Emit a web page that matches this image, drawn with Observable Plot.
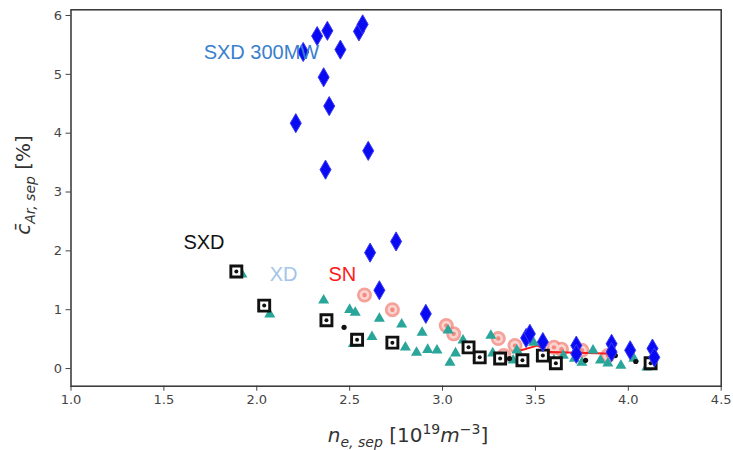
<!DOCTYPE html>
<html><head><meta charset="utf-8">
<script src="https://cdn.jsdelivr.net/npm/d3@7"></script>
<script src="https://cdn.jsdelivr.net/npm/@observablehq/plot@0.6"></script>
<style>body{margin:0;background:#fff}</style>
</head><body><div id="chart"></div>
<script>
// SXD 300MW (blue diamonds)
const sxd300X = [2.25,2.325,2.38,2.45,2.55,2.57,2.36,2.39,2.21,2.60,2.37,2.61,2.75,2.66,2.91,3.45,3.47,3.54,3.72,3.72,3.91,3.91,4.01,4.13,4.14];
const sxd300Y = [5.38,5.65,5.74,5.42,5.73,5.85,4.95,4.46,4.17,3.70,3.38,1.97,2.16,1.33,0.93,0.52,0.59,0.45,0.39,0.25,0.42,0.28,0.31,0.34,0.19];
// SXD (black squares)
const sxdX = [1.89,2.04,2.375,2.54,2.73,3.14,3.20,3.31,3.43,3.54,3.61,4.12];
const sxdY = [1.65,1.07,0.82,0.49,0.44,0.36,0.19,0.17,0.14,0.22,0.09,0.09];
// black small dots
const dotX = [2.47,3.36,3.77,3.93,4.04];
const dotY = [0.70,0.17,0.14,0.22,0.12];
// XD (teal triangles)
const xdX = [1.92,2.07,2.36,2.50,2.53,2.66,2.78,2.62,2.52,2.80,2.86,2.92,2.97,2.89,3.03,3.04,3.11,3.07,3.19,3.26,3.27,3.38,3.40,3.49,3.53,3.60,3.65,3.71,3.75,3.81,3.85,3.89,3.96,4.03,4.10];
const xdY = [1.60,0.92,1.16,1.00,0.95,0.85,0.75,0.54,0.42,0.36,0.27,0.32,0.31,0.61,0.65,0.10,0.48,0.26,0.19,0.56,0.26,0.14,0.31,0.44,0.19,0.14,0.22,0.17,0.10,0.31,0.14,0.09,0.05,0.17,0.02];
// SN (salmon circles)
const snX = [2.58,2.73,3.02,3.06,3.30,3.33,3.39,3.60,3.64,3.75,3.89];
const snY = [1.25,1.00,0.73,0.59,0.51,0.22,0.39,0.36,0.33,0.31,0.22];
// SN trend line
const snLineX = [3.39,3.51,3.58,3.92];
const snLineY = [0.28,0.39,0.28,0.25];
// labels
const labelText = ["SXD 300MW","SXD","XD","SN"];
const labelX = [1.714,1.605,2.07,2.386];
const labelY = [5.374,2.143,1.60,1.60];
const labelColor = ["#3a80cc","#111111","#a3c5ea","#ff1a1a"];
const xTicks = [1.0,1.5,2.0,2.5,3.0,3.5,4.0,4.5];
const yTicks = [0,1,2,3,4,5,6];

const zip = (xs, ys) => xs.map((x,i)=>({x, y: ys[i]}));
const sxd300 = zip(sxd300X, sxd300Y);
const sxd = zip(sxdX, sxdY);
const dots = zip(dotX, dotY);
const xd = zip(xdX, xdY);
const sn = zip(snX, snY);
const snLine = zip(snLineX, snLineY);
const labels = labelText.map((t,i)=>({t, x: labelX[i], y: labelY[i], c: labelColor[i]}));

const svg = Plot.plot({
  width: 733, height: 450,
  marginLeft: 70.5, marginRight: 12.3, marginTop: 9.3, marginBottom: 64.3,
  style: {fontFamily: "DejaVu Sans", fontSize: "13px", color: "#444", background: "#fff"},
  x: {domain: [1.0, 4.5], ticks: xTicks, tickFormat: d3.format(".1f"), tickSize: 5, tickPadding: 4, label: null},
  y: {domain: [-0.30, 6.097], ticks: yTicks, tickFormat: d3.format("d"), tickSize: 5, tickPadding: 4, label: null},
  marks: [
    Plot.dot(sn, {x: "x", y: "y", r: 7.5, fill: "#f38a80", fillOpacity: 0.8, stroke: "none"}),
    Plot.dot(sn, {x: "x", y: "y", r: 4.8, fill: "#fbd3cf", stroke: "none"}),
    Plot.dot(sn, {x: "x", y: "y", r: 2.2, fill: "#f38a80", stroke: "none"}),
    Plot.line(snLine, {x: "x", y: "y", stroke: "#ff1a1a", strokeWidth: 2}),
    Plot.dot(xd, {x: "x", y: "y", symbol: "triangle", r: 4.1, fill: "#2aa59a", stroke: "none"}),
    Plot.dot(sxd, {x: "x", y: "y", symbol: "square", r: 6.2, fill: "#fff", stroke: "#111", strokeWidth: 2.9}),
    Plot.dot(sxd, {x: "x", y: "y", r: 2, fill: "#111", stroke: "none"}),
    Plot.dot(dots, {x: "x", y: "y", r: 2.6, fill: "#111", stroke: "none"}),
    Plot.dot(sxd300, {x: "x", y: "y", symbol: "diamond", r: 5.8, fill: "#0a0af2", stroke: "#3b3bf5", strokeWidth: 1}),
    Plot.text(labels, {x: "x", y: "y", text: "t", fill: "c", textAnchor: "start", lineAnchor: "middle", fontSize: 20, fontFamily: "Liberation Sans"}),
    Plot.frame({stroke: "#333", strokeWidth: 1.5})
  ]
});
document.getElementById("chart").appendChild(svg);

const s = d3.select(svg);
// x axis title
const xt = s.append("text")
  .attr("x", 408).attr("y", 442)
  .attr("text-anchor", "middle")
  .attr("font-family", "DejaVu Sans").attr("font-size", 20).attr("fill", "#333");
xt.append("tspan").attr("font-style", "italic").text("n");
xt.append("tspan").attr("font-style", "italic").attr("font-size", 14).attr("dy", 5).text("e, sep");
xt.append("tspan").attr("dy", -5).text(" [10");
xt.append("tspan").attr("font-size", 14).attr("dy", -8).text("19");
xt.append("tspan").attr("font-style", "italic").attr("dy", 8).text("m");
xt.append("tspan").attr("font-size", 14).attr("dy", -8).text("\u22123");
xt.append("tspan").attr("dy", 8).text("]");
// y axis title
const yt = s.append("text")
  .attr("transform", "translate(30,185) rotate(-90)")
  .attr("text-anchor", "middle")
  .attr("font-family", "DejaVu Sans").attr("font-size", 20).attr("fill", "#333");
yt.append("tspan").attr("font-style", "italic").text("c\u0304");
yt.append("tspan").attr("font-style", "italic").attr("font-size", 14).attr("dy", 5).text("Ar, sep");
yt.append("tspan").attr("dy", -5).text(" [%]");
</script>
</body></html>
